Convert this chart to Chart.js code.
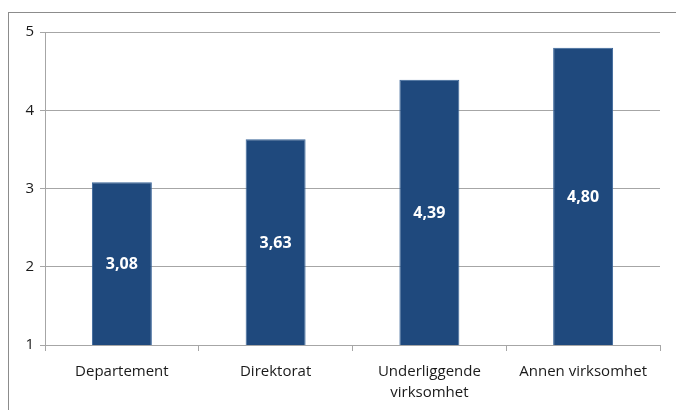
<html><head><meta charset="UTF-8">
<title>Gjennomsnitt etter type virksomhet</title>
<style>
* { margin: 0; padding: 0; box-sizing: border-box; }
body { width: 676px; height: 410px; overflow: hidden; background: #fff; position: relative; }
.frame { position: absolute; left: 8px; top: 12px; width: 700px; height: 420px; border: 1px solid #8c8c8c; }
.wrap { position: absolute; left: 0; top: 0; width: 676px; height: 410px; }
</style>
<script src="https://cdn.jsdelivr.net/npm/chart.js"></script>
</head>
<body>
<div class="frame"></div>
<div class="wrap"><canvas id="chart" width="676" height="410"></canvas></div>
<script>
const categories = ['Departement', 'Direktorat', ['Underliggende', 'virksomhet'], 'Annen virksomhet'];
const values = [3.08, 3.63, 4.39, 4.80];
const yTicks = [1, 2, 3, 4, 5];

const fontFamily = "'Open Sans', 'Liberation Sans', sans-serif";

// white value labels in the middle of each bar (no datalabels plugin offline)
const barLabels = {
    id: 'barLabels',
    afterDatasetsDraw(chart) {
        const ctx = chart.ctx;
        const meta = chart.getDatasetMeta(0);
        const bottom = chart.chartArea.bottom;
        ctx.save();
        ctx.fillStyle = '#ffffff';
        ctx.font = 'bold 16px ' + fontFamily;
        ctx.textAlign = 'center';
        ctx.textBaseline = 'middle';
        meta.data.forEach((bar, i) => {
            const mid = (bar.y + bottom) / 2;
            ctx.fillText(values[i].toFixed(2).replace('.', ','), bar.x, mid + 1);
        });
        ctx.restore();
    }
};

new Chart(document.getElementById('chart'), {
    type: 'bar',
    data: {
        labels: categories,
        datasets: [{
            data: values,
            backgroundColor: '#1f497d',
            borderColor: '#3a6599',
            borderWidth: 1,
            categoryPercentage: 1,
            barPercentage: 0.39
        }]
    },
    options: {
        responsive: false,
        animation: false,
        devicePixelRatio: 1,
        layout: { padding: { left: 18, top: 32, right: 16, bottom: 0 } },
        plugins: { legend: { display: false }, tooltip: { enabled: false } },
        scales: {
            y: {
                min: 1,
                max: 5,
                afterBuildTicks(scale) { scale.ticks = yTicks.map(v => ({ value: v })); },
                afterFit(scale) { scale.width = 27; },
                grid: { color: '#a6a6a6', lineWidth: 1, tickLength: 5, drawTicks: true },
                border: { color: '#a6a6a6' },
                ticks: { color: '#1a1a1a', padding: 6, font: { family: fontFamily, size: 15 } }
            },
            x: {
                afterFit(scale) { scale.height = 65; },
                grid: { display: true, drawOnChartArea: false, color: '#a6a6a6', tickLength: 6, offset: true },
                border: { color: '#a6a6a6' },
                ticks: { color: '#1a1a1a', padding: 11, maxRotation: 0, font: { family: fontFamily, size: 15, lineHeight: 1.35 } }
            }
        }
    },
    plugins: [barLabels]
});
</script>
</body></html>
